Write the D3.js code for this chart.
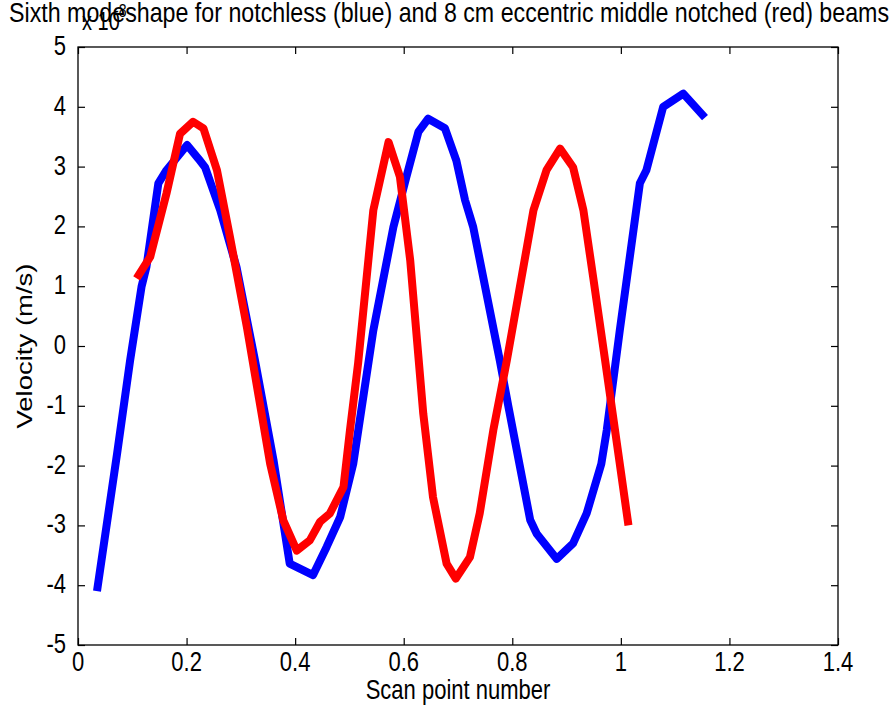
<!DOCTYPE html>
<meta charset="utf-8">
<style>
body { margin: 0; background: #fff; }
text { font-family: "Liberation Sans", Arial, sans-serif; fill: #000; }
</style>
<body>
<script src="https://d3js.org/d3.v7.min.js"></script>
<script>
// notchless beam (blue), scan position vs velocity (x 1e-8 m/s)
var blueX = [0.035, 0.072, 0.096, 0.117, 0.126, 0.148, 0.163, 0.201, 0.222, 0.234, 0.262, 0.292, 0.326, 0.36, 0.39,
  0.433, 0.458, 0.483, 0.507, 0.544, 0.581, 0.605, 0.627, 0.645, 0.676, 0.697, 0.713, 0.728, 0.777, 0.793,
  0.833, 0.845, 0.882, 0.912, 0.937, 0.964, 0.974, 0.998, 1.035, 1.047, 1.078, 1.115, 1.155];
var blueY = [-4.1, -1.8, -0.24, 0.99, 1.32, 2.72, 2.94, 3.36, 3.13, 2.99, 2.27, 1.32, -0.24, -1.9, -3.64,
  -3.83, -3.36, -2.86, -1.97, 0.26, 1.99, 2.83, 3.58, 3.80, 3.64, 3.10, 2.44, 1.99, -0.24, -1.02,
  -2.91, -3.14, -3.56, -3.30, -2.80, -1.97, -1.41, 0.26, 2.72, 2.94, 4.0, 4.22, 3.82];

// 8 cm eccentric middle notched beam (red)
var redX = [0.108, 0.133, 0.163, 0.188, 0.212, 0.231, 0.256, 0.280, 0.311, 0.354, 0.378, 0.403, 0.427, 0.446,
  0.464, 0.489, 0.501, 0.516, 0.544, 0.572, 0.593, 0.612, 0.636, 0.654, 0.679, 0.696, 0.722, 0.740, 0.765,
  0.790, 0.839, 0.863, 0.888, 0.912, 0.931, 0.949, 0.971, 0.998, 1.014];
var redY = [1.13, 1.49, 2.55, 3.55, 3.75, 3.64, 2.94, 1.82, 0.32, -1.97, -2.91, -3.42, -3.25, -2.94,
  -2.80, -2.36, -1.41, -0.29, 2.27, 3.41, 2.83, 1.43, -1.13, -2.53, -3.64, -3.89, -3.53, -2.80, -1.41,
  -0.24, 2.27, 2.94, 3.30, 2.99, 2.27, 1.15, -0.24, -1.97, -3.0];

var xTicks = [0, 0.2, 0.4, 0.6, 0.8, 1, 1.2, 1.4];
var xTickLabels = ["0", "0.2", "0.4", "0.6", "0.8", "1", "1.2", "1.4"];
var yTicks = [-5, -4, -3, -2, -1, 0, 1, 2, 3, 4, 5];
var yTickLabels = ["-5", "-4", "-3", "-2", "-1", "0", "1", "2", "3", "4", "5"];

var width = 894, height = 711;
var plotL = 78, plotR = 838, plotT = 47, plotB = 645;
var stretch = 1.25; // text in the picture is stretched vertically

var x = d3.scaleLinear().domain([0, 1.4]).range([plotL, plotR]);
var y = d3.scaleLinear().domain([-5, 5]).range([plotB, plotT]);

var svg = d3.select("body").append("svg")
    .attr("width", width)
    .attr("height", height);

svg.append("rect").attr("width", width).attr("height", height).attr("fill", "#fff");

var line = d3.line()
    .x(function(d) { return x(d[0]); })
    .y(function(d) { return y(d[1]); });

var blue = blueX.map(function(v, i) { return [v, blueY[i]]; });
var red = redX.map(function(v, i) { return [v, redY[i]]; });

svg.append("path").datum(blue)
    .attr("d", line)
    .attr("fill", "none")
    .attr("stroke", "#0000ff")
    .attr("stroke-width", 8)
    .attr("stroke-linejoin", "round");

svg.append("path").datum(red)
    .attr("d", line)
    .attr("fill", "none")
    .attr("stroke", "#ff0000")
    .attr("stroke-width", 8)
    .attr("stroke-linejoin", "round");

// box with inward ticks on all sides
var tl = 7;
function axisNoLabels(axis) { return axis.tickSize(tl).tickSizeOuter(0).tickFormat(""); }

svg.append("g").attr("transform", "translate(0," + plotB + ")")
    .call(axisNoLabels(d3.axisTop(x).tickValues(xTicks)));
svg.append("g").attr("transform", "translate(0," + plotT + ")")
    .call(axisNoLabels(d3.axisBottom(x).tickValues(xTicks)));
svg.append("g").attr("transform", "translate(" + plotL + ",0)")
    .call(axisNoLabels(d3.axisRight(y).tickValues(yTicks)));
svg.append("g").attr("transform", "translate(" + plotR + ",0)")
    .call(axisNoLabels(d3.axisLeft(y).tickValues(yTicks)));
svg.selectAll(".domain").remove();
svg.selectAll(".tick line").attr("stroke", "#000").attr("stroke-width", 1.2);

svg.append("rect")
    .attr("x", plotL).attr("y", plotT)
    .attr("width", plotR - plotL).attr("height", plotB - plotT)
    .attr("fill", "none").attr("stroke", "#000").attr("stroke-width", 1.3);

function stext(tx, ty, str, anchor, size) {
  return svg.append("text")
      .attr("transform", "translate(" + tx + "," + ty + ") scale(1," + stretch + ")")
      .attr("text-anchor", anchor)
      .style("font-size", size + "px")
      .text(str);
}

xTicks.forEach(function(v, i) { stext(x(v), 671, xTickLabels[i], "middle", 22); });
yTicks.forEach(function(v, i) { stext(plotL - 12, y(v) + 8, yTickLabels[i], "end", 22); });

stext(458, 699, "Scan point number", "middle", 22);

svg.append("text")
    .attr("transform", "translate(32," + ((plotT + plotB) / 2) + ") rotate(-90) scale(" + stretch + ",1)")
    .attr("text-anchor", "middle")
    .style("font-size", "22px")
    .text("Velocity (m/s)");

// exponent label
stext(82, 30, "x 10", "start", 20);
stext(114, 17, "-8", "start", 14);

stext(449, 22, "Sixth modeshape for notchless (blue) and 8 cm eccentric middle notched (red) beams", "middle", 22)
    .attr("textLength", 880)
    .attr("lengthAdjust", "spacingAndGlyphs");
</script>
</body>
